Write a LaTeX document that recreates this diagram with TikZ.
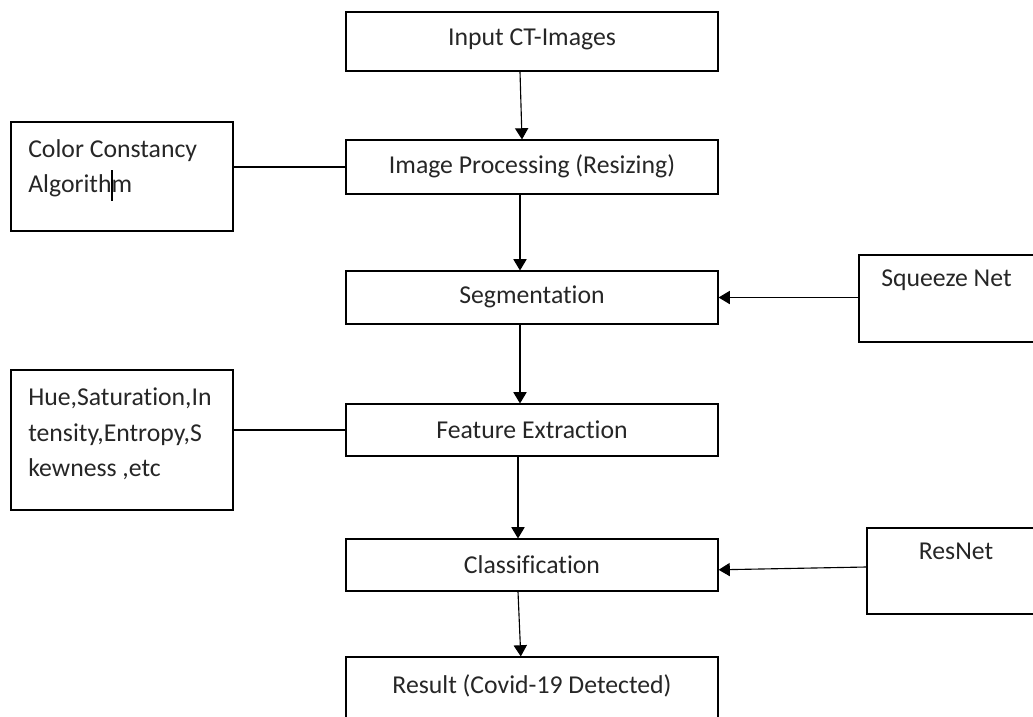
\documentclass[tikz,border=0pt]{standalone}
\usepackage{fontspec}
\setmainfont{Carlito}[Ligatures=NoCommon]
\usetikzlibrary{arrows.meta, positioning, calc}

\begin{document}
\begin{tikzpicture}[
    x=0.025cm, y=-0.025cm,
    every node/.style={font=\fontsize{18.3}{25}\selectfont, text=black!85},
    stage/.style={draw, line width=0.8pt, minimum width=9.3cm, inner sep=0},
    sidebox/.style={draw, line width=0.8pt, inner sep=0},
    note/.style={anchor=north west, align=left, inner sep=0},
    flow/.style={line width=0.8pt, -{Triangle[width=0.33cm, length=0.28cm]}},
    link/.style={line width=0.8pt}
]
\useasboundingbox (0,0) rectangle (1033,717);

% main pipeline
\node[stage, minimum height=1.475cm] (input) at (532,41.5) {};
\node at (532,39) {Input CT-Images};
\node[stage, minimum height=1.35cm] (proc) at (532,167) {};
\node at (532,166) {Image Processing (Resizing)};
\node[stage, minimum height=1.325cm] (seg) at (532,297.5) {};
\node at (532,297) {Segmentation};
\node[stage, minimum height=1.3cm] (feat) at (532,430) {};
\node at (532,430) {Feature Extraction};
\node[stage, minimum height=1.3cm] (cls) at (532,565) {};
\node at (532,565) {Classification};
\node[stage, minimum height=2cm] (result) at (532,697) {};
\node at (532,686) {Result (Covid-19 Detected)};

% side boxes
\node[sidebox, minimum width=5.55cm, minimum height=2.725cm] (color) at (122,176.5) {};
\node[note] at (28,139) {Color Constancy\\Algorithm};
\draw[line width=1.6pt] (112,170) -- (112,201);
\node[sidebox, minimum width=5.55cm, minimum height=3.5cm] (hue) at (122,440) {};
\node[note] at (28,388) {Hue,Saturation,In\\tensity,Entropy,S\\kewness ,etc};
\node[sidebox, minimum width=5cm, minimum height=2.175cm] (squeeze) at (959,298.5) {};
\node[note] at (881,270) {Squeeze Net};
\node[sidebox, minimum width=4.8cm, minimum height=2.15cm] (resnet) at (963,571) {};
\node at (956,551) {ResNet};

% arrows down the pipeline
\draw[flow] ([xshift=-0.3cm]input.south) -- ([xshift=-0.25cm]proc.north);
\draw[flow] ([xshift=-0.3cm]proc.south) -- ([xshift=-0.3cm]seg.north);
\draw[flow] ([xshift=-0.3cm]seg.south) -- ([xshift=-0.3cm]feat.north);
\draw[flow] ([xshift=-0.35cm]feat.south) -- ([xshift=-0.35cm]cls.north);
\draw[flow] ([xshift=-0.35cm]cls.south) -- ([xshift=-0.28cm]result.north);

% side links
\draw[link] (proc.west -| color.east) -- (proc.west);
\draw[link] (feat.west -| hue.east) -- (feat.west);
\draw[flow] (seg.east -| squeeze.west) -- (seg.east);
\draw[flow] ([yshift=-0.05cm]cls.east -| resnet.west) -- ([yshift=-0.12cm]cls.east);
\end{tikzpicture}
\end{document}
